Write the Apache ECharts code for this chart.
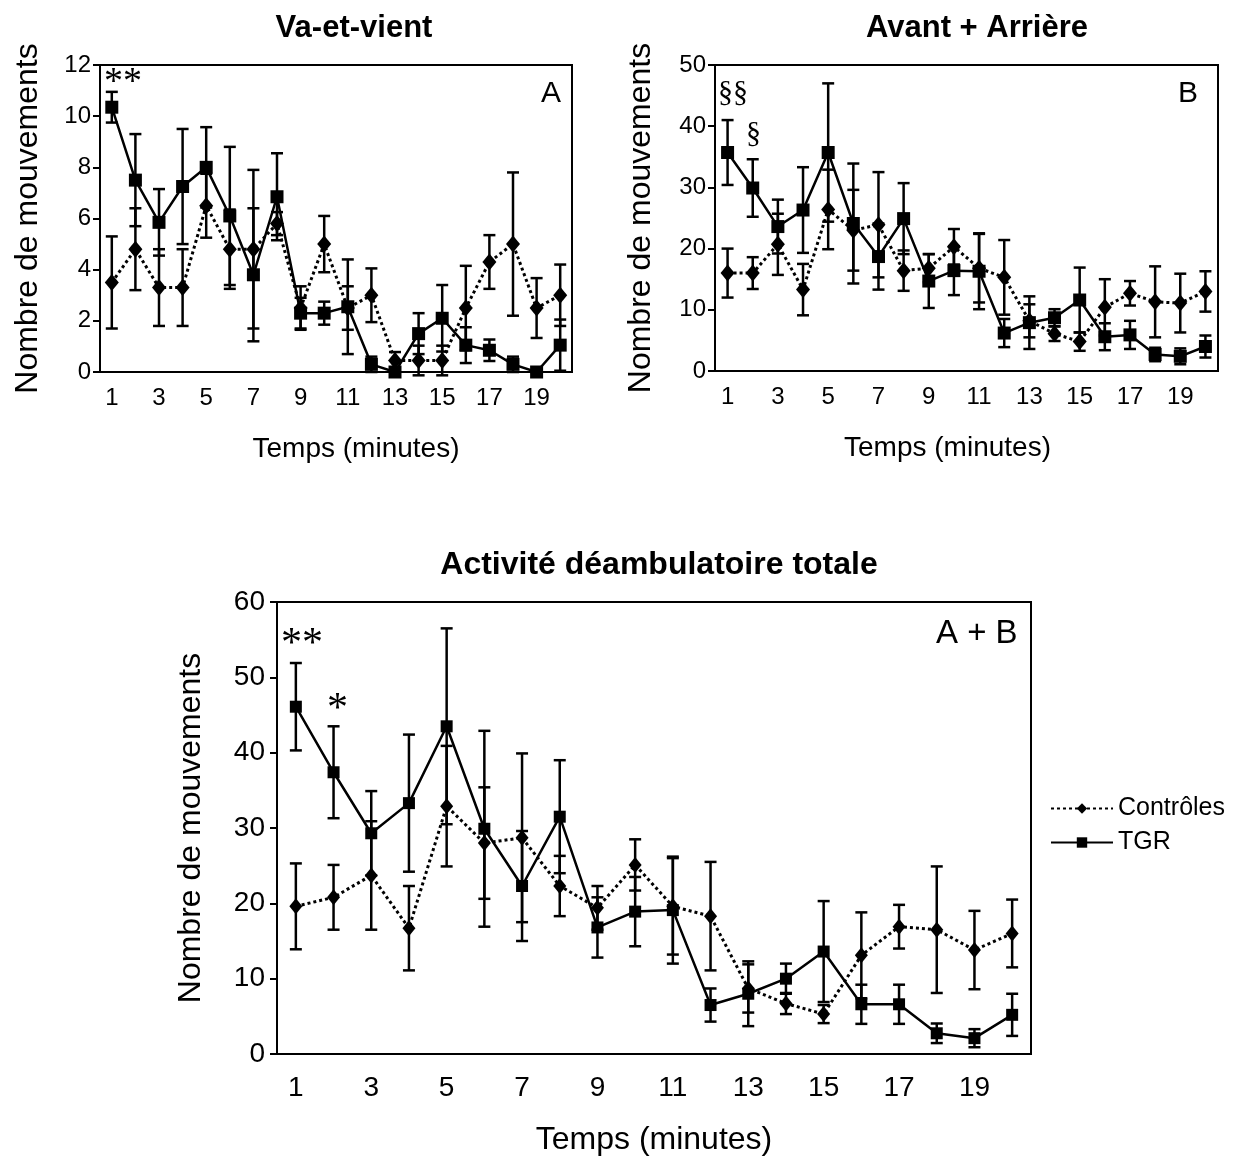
<!DOCTYPE html>
<html>
<head>
<meta charset="utf-8">
<script src="https://cdn.jsdelivr.net/npm/echarts@6/dist/echarts.min.js"></script>
<style>
html,body{margin:0;padding:0;background:#fff;}
#chart{width:1236px;height:1170px;}
</style>
</head>
<body>
<div id="chart"></div>
<script>
// ---- data ----
var minutes = [1,2,3,4,5,6,7,8,9,10,11,12,13,14,15,16,17,18,19,20];

var aCtrlMean = [3.5, 4.8, 3.3, 3.3, 6.5, 4.8, 4.8, 5.8, 2.5, 5.0, 2.5, 3.0, 0.45, 0.45, 0.45, 2.5, 4.3, 5.0, 2.5, 3.0];
var aCtrlErr  = [1.8, 1.6, 1.5, 1.5, 1.25, 1.55, 3.1, 0.45, 0.85, 1.1, 0.85, 1.05, 0.33, 0.58, 0.58, 1.65, 1.05, 2.8, 1.17, 1.2];
var aTgrMean  = [10.35, 7.5, 5.85, 7.25, 8.0, 6.1, 3.8, 6.85, 2.3, 2.3, 2.55, 0.3, 0.0, 1.5, 2.1, 1.05, 0.85, 0.3, 0.0, 1.05];
var aTgrErr   = [0.6, 1.8, 1.3, 2.25, 1.57, 2.7, 2.6, 1.7, 0.6, 0.45, 1.85, 0.3, 0.0, 0.8, 1.3, 0.7, 0.42, 0.3, 0.0, 1.0];

var bCtrlMean = [16.0, 16.0, 20.7, 13.3, 26.4, 23.0, 23.9, 16.4, 16.8, 20.3, 16.8, 15.3, 8.2, 6.1, 4.8, 10.4, 12.7, 11.3, 11.1, 13.0];
var bCtrlErr  = [4.0, 2.6, 5.0, 4.2, 6.5, 6.6, 8.6, 3.3, 2.3, 2.9, 5.6, 6.1, 2.7, 1.2, 1.5, 4.6, 2.0, 5.8, 4.8, 3.3];
var bTgrMean  = [35.7, 29.9, 23.6, 26.3, 35.7, 24.1, 18.7, 24.9, 14.7, 16.4, 16.3, 6.2, 7.9, 8.7, 11.6, 5.6, 5.9, 2.7, 2.4, 4.0];
var bTgrErr   = [5.3, 4.7, 4.4, 7.0, 11.3, 9.8, 5.4, 5.8, 4.4, 4.0, 6.2, 2.3, 4.3, 1.4, 5.3, 2.2, 2.3, 1.1, 1.3, 1.8];

var cCtrlMean = [19.6, 20.8, 23.7, 16.7, 32.9, 28.0, 28.7, 22.3, 19.4, 25.1, 19.6, 18.3, 8.7, 6.7, 5.3, 13.1, 16.9, 16.5, 13.8, 16.0];
var cCtrlErr  = [5.7, 4.3, 7.2, 5.6, 8.0, 7.4, 11.2, 4.0, 2.9, 3.4, 6.4, 7.2, 3.2, 1.4, 1.2, 5.7, 2.9, 8.4, 5.2, 4.5];
var cTgrMean  = [46.1, 37.4, 29.3, 33.3, 43.5, 29.9, 22.3, 31.5, 16.8, 18.9, 19.1, 6.5, 8.0, 10.0, 13.6, 6.6, 6.6, 2.75, 2.1, 5.2];
var cTgrErr   = [5.8, 6.1, 5.6, 9.1, 13.0, 13.0, 7.3, 7.5, 4.0, 4.6, 7.1, 2.2, 4.3, 2.0, 6.7, 2.6, 2.6, 1.3, 1.2, 2.8];

var seriesNames = ['Contrôles', 'TGR'];
var panelTitles = ['Va-et-vient', 'Avant + Arrière', 'Activité déambulatoire totale'];
var panelTags = ['A', 'B', 'A + B'];
var yMax = [12, 50, 60];
var yStep = [2, 10, 10];
var yName = 'Nombre de mouvements';
var xName = 'Temps (minutes)';

// ---- chart ----
var chart = echarts.init(document.getElementById('chart'), null, {renderer: 'canvas'});
var FONT = 'Liberation Sans, Arial, sans-serif';
var SERIF = 'Liberation Serif, Times New Roman, serif';

function errData(mean, err) {
  return mean.map(function (m, i) { return [i, m - err[i], m + err[i]]; });
}
function errRender(params, api) {
  var x = api.value(0);
  var lo = api.coord([x, api.value(1)]);
  var hi = api.coord([x, api.value(2)]);
  var hw = 6;
  var st = {stroke: '#000', lineWidth: 2.5};
  return {
    type: 'group',
    children: [
      {type: 'line', shape: {x1: lo[0], y1: lo[1], x2: hi[0], y2: hi[1]}, style: st},
      {type: 'line', shape: {x1: lo[0] - hw, y1: lo[1], x2: lo[0] + hw, y2: lo[1]}, style: st},
      {type: 'line', shape: {x1: hi[0] - hw, y1: hi[1], x2: hi[0] + hw, y2: hi[1]}, style: st}
    ]
  };
}

var grids = [
  {left: 100, top: 65, width: 472, height: 307},
  {left: 715, top: 65, width: 503, height: 306},
  {left: 277, top: 602, width: 754, height: 452}
];
grids.forEach(function (g) {
  g.show = true; g.borderColor = '#000'; g.borderWidth = 2; g.backgroundColor = 'transparent';
  g.containLabel = false;
});

var tickFont = [24, 24, 28];
var xNameFont = [28, 28, 32];
var yNameFont = [32, 32, 32];
var yNameGap = [56, 58, 70];
var xNameGap = [63, 63, 70];
var xNamePad = [[0, 0, 0, 40], [0, 38, 0, 0], [0, 0, 0, 0]];
var xLabelMargin = [14, 14, 20];
var yLabelMargin = [9, 9, 12];

var xAxes = [], yAxes = [], series = [];
var means = [[aCtrlMean, aTgrMean], [bCtrlMean, bTgrMean], [cCtrlMean, cTgrMean]];
var errs = [[aCtrlErr, aTgrErr], [bCtrlErr, bTgrErr], [cCtrlErr, cTgrErr]];

for (var p = 0; p < 3; p++) {
  xAxes.push({
    type: 'category', gridIndex: p, data: minutes, boundaryGap: true,
    axisLine: {lineStyle: {color: '#000', width: 2}},
    axisTick: {alignWithLabel: true, interval: 0, length: 7, lineStyle: {color: '#000', width: 2}},
    axisLabel: {interval: 1, color: '#000', fontSize: tickFont[p], fontFamily: FONT, margin: xLabelMargin[p]},
    splitLine: {show: false},
    name: xName, nameLocation: 'middle', nameGap: xNameGap[p],
    nameTextStyle: {color: '#000', fontSize: xNameFont[p], fontFamily: FONT, padding: xNamePad[p]}
  });
  yAxes.push({
    type: 'value', gridIndex: p, min: 0, max: yMax[p], interval: yStep[p],
    axisLine: {show: true, lineStyle: {color: '#000', width: 2}},
    axisTick: {show: true, length: 7, lineStyle: {color: '#000', width: 2}},
    axisLabel: {color: '#000', fontSize: tickFont[p], fontFamily: FONT, margin: yLabelMargin[p]},
    splitLine: {show: false},
    name: yName, nameLocation: 'middle', nameGap: yNameGap[p], nameRotate: 90,
    nameTextStyle: {color: '#000', fontSize: yNameFont[p], fontFamily: FONT}
  });
  var big = p < 2;
  for (var s = 0; s < 2; s++) {
    series.push({
      type: 'custom', xAxisIndex: p, yAxisIndex: p, renderItem: errRender,
      data: errData(means[p][s], errs[p][s]), silent: true, z: 2,
      encode: {x: 0, y: [1, 2]}
    });
  }
  series.push({
    name: seriesNames[0], type: 'line', xAxisIndex: p, yAxisIndex: p,
    data: means[p][0], symbol: 'diamond', symbolSize: big ? [14, 17] : [13, 16],
    showAllSymbol: true,
    itemStyle: {color: '#000'},
    lineStyle: {color: '#000', width: 3, type: [3, 3]}, z: 3, animation: false
  });
  series.push({
    name: seriesNames[1], type: 'line', xAxisIndex: p, yAxisIndex: p,
    data: means[p][1], symbol: 'rect', symbolSize: big ? 13 : 12,
    showAllSymbol: true,
    itemStyle: {color: '#000'},
    lineStyle: {color: '#000', width: 2.5}, z: 4, animation: false
  });
}

var titles = [
  {text: panelTitles[0], left: 349, top: 8, textAlign: 'center', fs: 31},
  {text: panelTitles[1], left: 972, top: 8, textAlign: 'center', fs: 31},
  {text: panelTitles[2], left: 654, top: 544, textAlign: 'center', fs: 32}
];
titles.forEach(function (t) {
  t.textStyle = {fontSize: t.fs, fontWeight: 'bold', color: '#000', fontFamily: FONT};
  delete t.fs;
});

var graphics = [
  {type: 'text', left: 541, top: 79, style: {text: panelTags[0], font: '30px ' + FONT, fill: '#000'}},
  {type: 'text', left: 1178, top: 79, style: {text: panelTags[1], font: '30px ' + FONT, fill: '#000'}},
  {type: 'text', left: 936, top: 617, style: {text: panelTags[2], font: '33px ' + FONT, fill: '#000'}},
  {type: 'text', left: 104, top: 64, style: {text: '**', font: '38px ' + SERIF, fill: '#000'}},
  {type: 'text', left: 718, top: 78, style: {text: '§§', font: '30px ' + SERIF, fill: '#000'}},
  {type: 'text', left: 746, top: 119, style: {text: '§', font: '30px ' + SERIF, fill: '#000'}},
  {type: 'text', left: 281, top: 624, style: {text: '**', font: '42px ' + SERIF, fill: '#000'}},
  {type: 'text', left: 327, top: 689, style: {text: '*', font: '42px ' + SERIF, fill: '#000'}}
];

chart.setOption({
  animation: false,
  backgroundColor: '#fff',
  title: titles,
  grid: grids,
  xAxis: xAxes,
  yAxis: yAxes,
  legend: {
    data: seriesNames, orient: 'vertical', left: 1045, top: 791,
    itemWidth: 62, itemHeight: 13, itemGap: 9,
    textStyle: {fontSize: 25, color: '#000', fontFamily: FONT},
    selectedMode: false
  },
  graphic: graphics,
  series: series
});
</script>
</body>
</html>
